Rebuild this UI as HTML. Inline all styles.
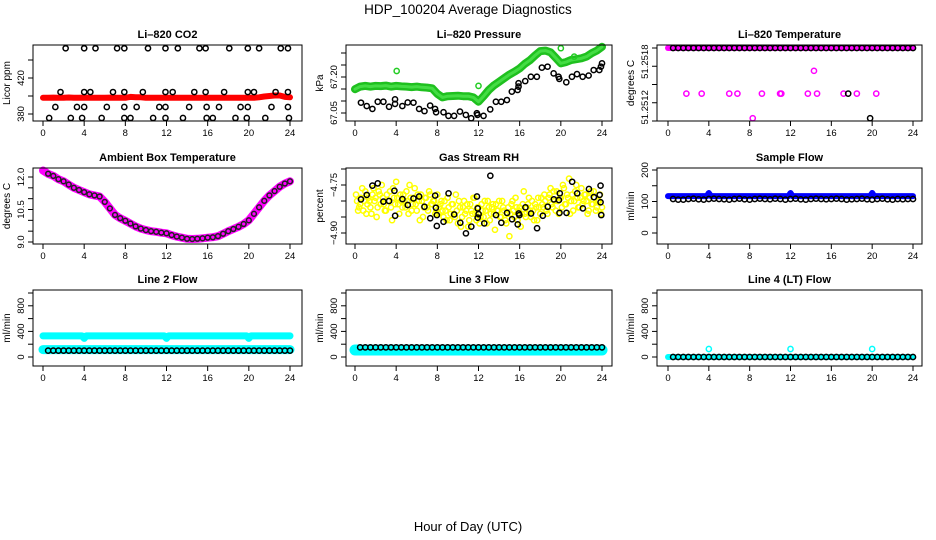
<!DOCTYPE html>
<html><head><meta charset="utf-8">
<style>
html,body{margin:0;padding:0;background:#fff;}
svg{display:block;font-family:"Liberation Sans",sans-serif;}
</style></head>
<body>
<svg id="chart" width="936" height="540" viewBox="0 0 936 540" xmlns="http://www.w3.org/2000/svg">
<rect x="0" y="0" width="936" height="540" fill="#fff"/>
<text x="468" y="14" font-size="13.5" text-anchor="middle">HDP_100204  Average Diagnostics</text>
<text x="468" y="531" font-size="13" text-anchor="middle">Hour of Day (UTC)</text>
</svg>
<script>
// ---------- data ----------
const xTicks=[0,4,8,12,16,20,24];
const halfT=[];for(let i=1;i<=48;i++)halfT.push(i/2);
const fullT=[];for(let i=0;i<=48;i++)fullT.push(i/2);

// CO2
const co2RedV=[398,398,398.2,398,398,398.3,398,398,398.2,398,398,398,398,398.2,398,398,398,399,398.6,398.5,398,398,398,398,398,398,398,398,398,398,398,398,398,398,398,398,398,398,398,398,398,398,398.5,399.5,400,400.5,400.5,399,398.5];
const co2BlackT=[2.2,4.0,5.1,7.2,7.9,10.2,11.9,13.1,15.2,15.8,18.1,19.9,21.0,23.1,23.8, 1.7,4.0,4.6,6.8,7.9,9.7,11.9,12.6,14.7,15.8,17.6,19.9,20.5,22.6,23.8, 1.2,3.3,4.0,6.2,7.9,9.1,11.3,11.9,14.2,15.9,17.1,19.2,19.9,22.2,23.8, 0.6,2.7,3.8,5.7,7.9,8.5,10.7,11.9,13.6,15.9,16.5,18.7,19.8,21.6,23.9];
const co2BlackV=[453,453,453,453,453,453,453,453,453,453,453,453,453,453,453, 404.4,404.4,404.4,404.4,404.4,404.4,404.4,404.4,404.4,404.4,404.4,404.4,404.4,404.4,404.4, 387.8,387.8,387.8,387.8,387.8,387.8,387.8,387.8,387.8,387.8,387.8,387.8,387.8,387.8,387.8, 375.6,375.6,375.6,375.6,375.6,375.6,375.6,375.6,375.6,375.6,375.6,375.6,375.6,375.6,375.6];

// Pressure
const presGreenV=[67.149,67.16,67.163,67.16,67.163,67.162,67.164,67.16,67.163,67.161,67.16,67.158,67.16,67.157,67.156,67.153,67.13,67.115,67.12,67.121,67.122,67.12,67.12,67.115,67.097,67.12,67.146,67.165,67.18,67.195,67.21,67.222,67.236,67.255,67.27,67.29,67.308,67.31,67.303,67.28,67.257,67.262,67.271,67.274,67.278,67.285,67.299,67.31,67.326];
const presGreenOutT=[4.05,12.0,20.0,21.3];
const presGreenOutV=[67.225,67.163,67.32,67.285];
const presBlackT=[0.58,1.14,1.69,2.21,2.76,3.31,3.89,3.89,4.6,5.12,5.68,6.23,6.75,7.3,7.78,7.88,8.6,9.08,9.63,10.2,10.77,11.29,11.84,11.9,12.49,13.14,13.69,14.21,14.76,15.24,15.8,15.89,15.89,16.54,17.09,17.67,18.16,18.71,19.3,19.78,19.85,20.53,21.08,21.57,22.12,22.7,23.19,23.74,23.9,24.0];
const presBlackV=[67.093,67.079,67.067,67.097,67.097,67.076,67.107,67.088,67.079,67.094,67.093,67.067,67.058,67.081,67.067,67.053,67.053,67.038,67.038,67.056,67.042,67.028,67.049,67.042,67.038,67.065,67.097,67.097,67.104,67.139,67.146,67.16,67.174,67.183,67.201,67.201,67.239,67.243,67.215,67.201,67.192,67.178,67.201,67.212,67.201,67.206,67.229,67.229,67.243,67.257];

// Li-820 temperature
const tempTopV=51.2518;
const tempMagMidT=[1.8,3.3,6.0,6.8,9.2,10.98,11.1,13.7,14.6,17.2,18.5,20.4];
const tempMagMidV=[51.2513,51.2513,51.2513,51.2513,51.2513,51.2513,51.2513,51.2513,51.2513,51.2513,51.2513,51.2513];
const tempMagOtherT=[14.3,8.3];
const tempMagOtherV=[51.25155,51.25103];
const tempBlackOtherT=[17.65,19.8];
const tempBlackOtherV=[51.2513,51.25103];

// Ambient box temperature
const ambV=[12.3,12.15,12.05,11.9,11.8,11.65,11.5,11.4,11.3,11.2,11.15,11.1,10.85,10.55,10.25,10.1,9.98,9.85,9.72,9.62,9.55,9.5,9.47,9.43,9.4,9.32,9.25,9.2,9.15,9.14,9.15,9.17,9.2,9.22,9.27,9.38,9.5,9.6,9.7,9.83,10.0,10.3,10.6,10.9,11.15,11.35,11.55,11.7,11.8];

// Gas stream RH
const rhYellowA=[-4.80,-4.82,-4.79,-4.83,-4.77,-4.81,-4.80,-4.84,-4.76,-4.79,-4.82,-4.78,-4.75,-4.81,-4.83,-4.80,-4.77,-4.86,-4.79,-4.74,-4.81,-4.78,-4.82,-4.80,-4.77,-4.84,-4.79,-4.81,-4.76,-4.83,-4.80,-4.78,-4.85,-4.79,-4.82,-4.77,-4.81,-4.80,-4.84,-4.78,
-4.82,-4.80,-4.85,-4.83,-4.79,-4.86,-4.81,-4.84,-4.78,-4.87,-4.82,-4.85,-4.80,-4.83,-4.88,-4.81,-4.84,-4.79,-4.86,-4.82,-4.85,-4.83,-4.80,-4.87,-4.82,-4.84,-4.81,-4.89,-4.83,-4.80,-4.85,-4.82,-4.86,-4.84,-4.91,-4.81,-4.83,-4.79,-4.86,-4.82,-4.84,-4.77,-4.85,-4.81,-4.83,-4.80,-4.86,-4.82,-4.79,-4.84,
-4.81,-4.78,-4.83,-4.79,-4.76,-4.82,-4.80,-4.77,-4.84,-4.79,-4.75,-4.81,-4.78,-4.73,-4.80,-4.83,-4.77,-4.79,-4.82,-4.76,-4.80,-4.78,-4.84,-4.79,-4.81,-4.77,-4.83,-4.80,-4.78,-4.82];
const rhYellowB=[-4.78,-4.83,-4.81,-4.76,-4.80,-4.84,-4.79,-4.82,-4.78,-4.80,-4.85,-4.77,-4.81,-4.79,-4.83,-4.78,-4.80,-4.82,-4.76,-4.81,-4.79,-4.84,-4.80,-4.78,-4.82,-4.80,-4.75,-4.83,-4.79,-4.81,-4.78,-4.86,-4.80,-4.82,-4.79,-4.83,-4.78,-4.81,-4.80,-4.83,
-4.84,-4.81,-4.83,-4.80,-4.86,-4.82,-4.84,-4.81,-4.85,-4.83,-4.80,-4.88,-4.82,-4.84,-4.81,-4.86,-4.83,-4.79,-4.84,-4.82,-4.87,-4.81,-4.85,-4.83,-4.80,-4.86,-4.82,-4.84,-4.81,-4.83,-4.85,-4.80,-4.83,-4.87,-4.82,-4.84,-4.80,-4.85,-4.82,-4.83,-4.88,-4.81,-4.84,-4.82,-4.79,-4.85,-4.83,-4.81,-4.86,-4.82,
-4.79,-4.82,-4.80,-4.84,-4.78,-4.81,-4.77,-4.83,-4.80,-4.79,-4.82,-4.76,-4.81,-4.79,-4.84,-4.78,-4.80,-4.75,-4.82,-4.79,-4.81,-4.78,-4.80,-4.83,-4.77,-4.81,-4.79,-4.82,-4.80,-4.84];
const rhBlackT=[0.58,1.14,1.69,2.21,2.76,3.31,3.83,3.9,4.61,5.13,5.68,6.23,6.75,7.31,7.79,7.86,7.95,7.95,8.6,9.09,9.64,10.23,10.78,11.3,11.85,11.92,11.92,12.01,12.56,13.15,13.7,14.22,14.77,15.26,15.81,15.91,15.97,16.56,17.11,17.69,18.25,18.73,19.32,19.81,19.87,19.9,20.55,21.1,21.59,22.14,22.73,23.21,23.77,23.86,23.86,23.93];
const rhBlackV=[-4.795,-4.781,-4.752,-4.745,-4.802,-4.80,-4.768,-4.846,-4.794,-4.8125,-4.792,-4.786,-4.818,-4.854,-4.783,-4.821,-4.844,-4.878,-4.865,-4.776,-4.842,-4.868,-4.901,-4.88,-4.786,-4.823,-4.852,-4.841,-4.87,-4.721,-4.844,-4.868,-4.837,-4.857,-4.873,-4.839,-4.844,-4.82,-4.839,-4.885,-4.846,-4.818,-4.795,-4.797,-4.837,-4.776,-4.837,-4.74,-4.776,-4.823,-4.7625,-4.788,-4.781,-4.752,-4.804,-4.844];

// Flows
const bumpT=[0,3.8,4,4.2,11.8,12,12.2,19.8,20,20.2,24];
const sampleBlueV=[117,117,127,117,117,127,117,117,127,117,117];
const sampleBlackV=[108,106,106,108,109,107,106,108,109,108,107,106,108,109,107,106,108,109,108,107,109,108,106,108,109,107,106,108,109,108,107,108,109,108,106,107,108,109,107,106,108,109,107,106,108,107,108,108];
const line2TopV=[330,330,290,330,330,290,330,330,290,330,330];
const line2BottomT=[0,24];
const line2BottomV=[115,115];
const line2BlackV=[100,100,100,100,100,100,100,100,100,100,100,100,100,100,100,100,100,100,100,100,100,100,100,100,100,100,100,100,100,100,100,100,100,100,100,100,100,100,100,100,100,100,100,100,100,100,100,100];
const line3CyanT=[0,24];
const line3CyanV=[110,110];
const line3BlackV=[150,150,150,150,150,150,150,150,150,150,150,150,150,150,150,150,150,150,150,150,150,150,150,150,150,150,150,150,150,150,150,150,150,150,150,150,150,150,150,150,150,150,150,150,150,150,150,150];
const line4CyanT=[0,24];
const line4CyanV=[0,0];
const line4SpikeT=[4,12,20];
const line4SpikeV=[125,125,125];
const line4BlackV=[0,0,0,0,0,0,0,0,0,0,0,0,0,0,0,0,0,0,0,0,0,0,0,0,0,0,0,0,0,0,0,0,0,0,0,0,0,0,0,0,0,0,0,0,0,0,0,0];

// ---------- drawing ----------
const NS="http://www.w3.org/2000/svg";
const svg=document.getElementById('chart');
function mk(tag,attrs,parent){const e=document.createElementNS(NS,tag);for(const k in attrs)e.setAttribute(k,attrs[k]);(parent||svg).appendChild(e);return e;}
function lin(v0,p0,v1,p1){return v=>p0+(v-v0)*(p1-p0)/(v1-v0);}

const cols=[{x0:33,x1:302,t0:43,t24:290},{x0:346,x1:612,t0:355,t24:602},{x0:657,x1:922,t0:668,t24:913}];
const rows=[{y0:45,y1:121},{y0:168,y1:244},{y0:290,y1:366}];

function panel(name,title,ylab,c,r,ys,yticks,ylabels,ylabelText){
  const C=cols[c],R=rows[r];
  const g=mk('g',{});
  
  
  const p={g,xs:lin(0,C.t0,24,C.t24),ys,C,R};
  const t=mk('text',{x:(C.x0+C.x1)/2,y:R.y0-7,'font-size':11,'font-weight':'bold','text-anchor':'middle'},g);
  t.textContent=title;
  
  
  const yl=mk('text',{x:0,y:0,'font-size':10,'text-anchor':'middle',transform:`translate(${C.x0-23},${(R.y0+R.y1)/2}) rotate(-90)`},g);
  yl.textContent=ylab;
  
  
  const xa=mk('g',{stroke:'#000','stroke-width':1},g);
  
  
  xTicks.forEach(v=>{
    const x=p.xs(v);
    mk('line',{x1:x,x2:x,y1:R.y1,y2:R.y1+5},xa);
    const tl=mk('text',{x:x,y:R.y1+15,'font-size':9.5,'text-anchor':'middle',stroke:'none'},xa);
    tl.textContent=v;
    
    
  });
  const ya=mk('g',{stroke:'#000','stroke-width':1},g);
  
  
  yticks.forEach(v=>{const y=ys(v);mk('line',{x1:C.x0-5,x2:C.x0,y1:y,y2:y},ya);});
  (ylabelText||ylabels.map(v=>[v,String(v)])).forEach(([v,s])=>{
    const tl=mk('text',{x:0,y:0,'font-size':9.5,'text-anchor':'middle',stroke:'none',transform:`translate(${C.x0-9},${ys(v)}) rotate(-90)`},ya);
    tl.textContent=s;
    
    
  });
  p.series=mk('g',{},g);
  const box=mk('rect',{x:C.x0,y:R.y0,width:C.x1-C.x0,height:R.y1-R.y0,fill:'none',stroke:'#000','stroke-width':1},g);
  
  
  return p;
}
function pts(p,ts,vs,color,name,rad){
  const g=mk('g',{fill:'none',stroke:color,'stroke-width':1.5},p.series);
  
  
  ts.forEach((t,i)=>{
    const c=mk('circle',{cx:p.xs(t),cy:p.ys(vs[i]),r:rad||2.6},g);
    
    
  });
}
function band(p,ts,vs,color,w,name){
  const d=ts.map((t,i)=>(i?'L':'M')+p.xs(t).toFixed(1)+','+p.ys(vs[i]).toFixed(1)).join('');
  const e=mk('path',{d,fill:'none',stroke:color,'stroke-width':w,'stroke-linecap':'round','stroke-linejoin':'round'},p.series);
  
  
}

// Panel 1 CO2
const p1=panel('co2','Li–820 CO2','Licor ppm',0,0,lin(380,114,420,78),[380,400,420,440],[380,420]);
band(p1,fullT,co2RedV,'#ff0000',6,'co2-red-series');
pts(p1,co2BlackT,co2BlackV,'#000','co2-black-series');

// Panel 2 Pressure
const p2=panel('pressure','Li–820 Pressure','kPa',1,0,lin(67.05,113,67.20,77),[67.05,67.10,67.15,67.20,67.25,67.30],[],[[67.05,'67.05'],[67.20,'67.20']]);
band(p2,fullT,presGreenV,'#1fc01f',8,'pressure-green-series');
band(p2,fullT,presGreenV,'#44dd44',3,'pressure-green-core');
pts(p2,presGreenOutT,presGreenOutV,'#22cc22','pressure-green-outliers');
pts(p2,presBlackT,presBlackV,'#000','pressure-black-series');

// Panel 3 Li-820 Temperature
const p3=panel('li820-temp','Li–820 Temperature','degrees C',2,0,lin(51.2518,48,51.2510,121),[51.2510,51.2512,51.2514,51.2516,51.2518],[],[[51.25165,'51.2518'],[51.25115,'51.2512']]);
band(p3,[0,24],[tempTopV,tempTopV],'#ff00ff',6,'li820-temp-magenta-top');
pts(p3,halfT,halfT.map(()=>tempTopV),'#000','li820-temp-black-top');
pts(p3,tempMagMidT,tempMagMidV,'#ff00ff','li820-temp-magenta-points');
pts(p3,tempMagOtherT,tempMagOtherV,'#ff00ff','li820-temp-magenta-outliers');
pts(p3,tempBlackOtherT,tempBlackOtherV,'#000','li820-temp-black-outliers');

// Panel 4 Ambient
const p4=panel('ambient','Ambient Box Temperature','degrees C',0,1,lin(9.0,242,12.0,177),[9.0,9.5,10.0,10.5,11.0,11.5,12.0],[],[[9.0,'9.0'],[10.5,'10.5'],[12.0,'12.0']]);
band(p4,fullT,ambV,'#ff00ff',8,'ambient-magenta-series');
pts(p4,fullT.slice(1),ambV.slice(1),'#222','ambient-black-series',2.4);

// Panel 5 RH
const p5=panel('rh','Gas Stream RH','percent',1,1,lin(-4.75,185,-4.90,233),[-4.70,-4.75,-4.80,-4.85,-4.90],[],[[-4.75,'−4.75'],[-4.90,'−4.90']]);
const yT=[];for(let i=1;i<=120;i++)yT.push(i*0.2);
const yT2=yT.map(t=>t-0.1);
pts(p5,yT,rhYellowA,'#ffff00','rh-yellow-series-a');
pts(p5,yT2,rhYellowB,'#ffff00','rh-yellow-series-b');
pts(p5,rhBlackT,rhBlackV,'#000','rh-black-series');

// Panel 6 Sample Flow
const p6=panel('sample-flow','Sample Flow','ml/min',2,1,lin(0,233,200,170),[0,50,100,150,200],[0,100,200]);
band(p6,bumpT,sampleBlueV,'#0000ff',6,'sample-flow-blue-series');
pts(p6,halfT,sampleBlackV,'#000','sample-flow-black-series');

// Panel 7 Line 2
const fs=()=>lin(0,357,1000,293);
const p7=panel('line2-flow','Line 2 Flow','ml/min',0,2,fs(),[0,200,400,600,800,1000],[0,400,800]);
band(p7,bumpT,line2TopV,'#00ffff',7,'line2-cyan-top-series');
band(p7,line2BottomT,line2BottomV,'#00ffff',9,'line2-cyan-bottom-series');
pts(p7,halfT,line2BlackV,'#000','line2-black-series');

// Panel 8 Line 3
const p8=panel('line3-flow','Line 3 Flow','ml/min',1,2,fs(),[0,200,400,600,800,1000],[0,400,800]);
band(p8,line3CyanT,line3CyanV,'#00ffff',11,'line3-cyan-series');
pts(p8,halfT,line3BlackV,'#000','line3-black-series');

// Panel 9 Line 4
const p9=panel('line4-flow','Line 4 (LT) Flow','ml/min',2,2,fs(),[0,200,400,600,800,1000],[0,400,800]);
band(p9,line4CyanT,line4CyanV,'#00ffff',6,'line4-cyan-series');
pts(p9,line4SpikeT,line4SpikeV,'#00ffff','line4-cyan-spikes');
pts(p9,halfT,line4BlackV,'#000','line4-black-series');
</script>
</body></html>
